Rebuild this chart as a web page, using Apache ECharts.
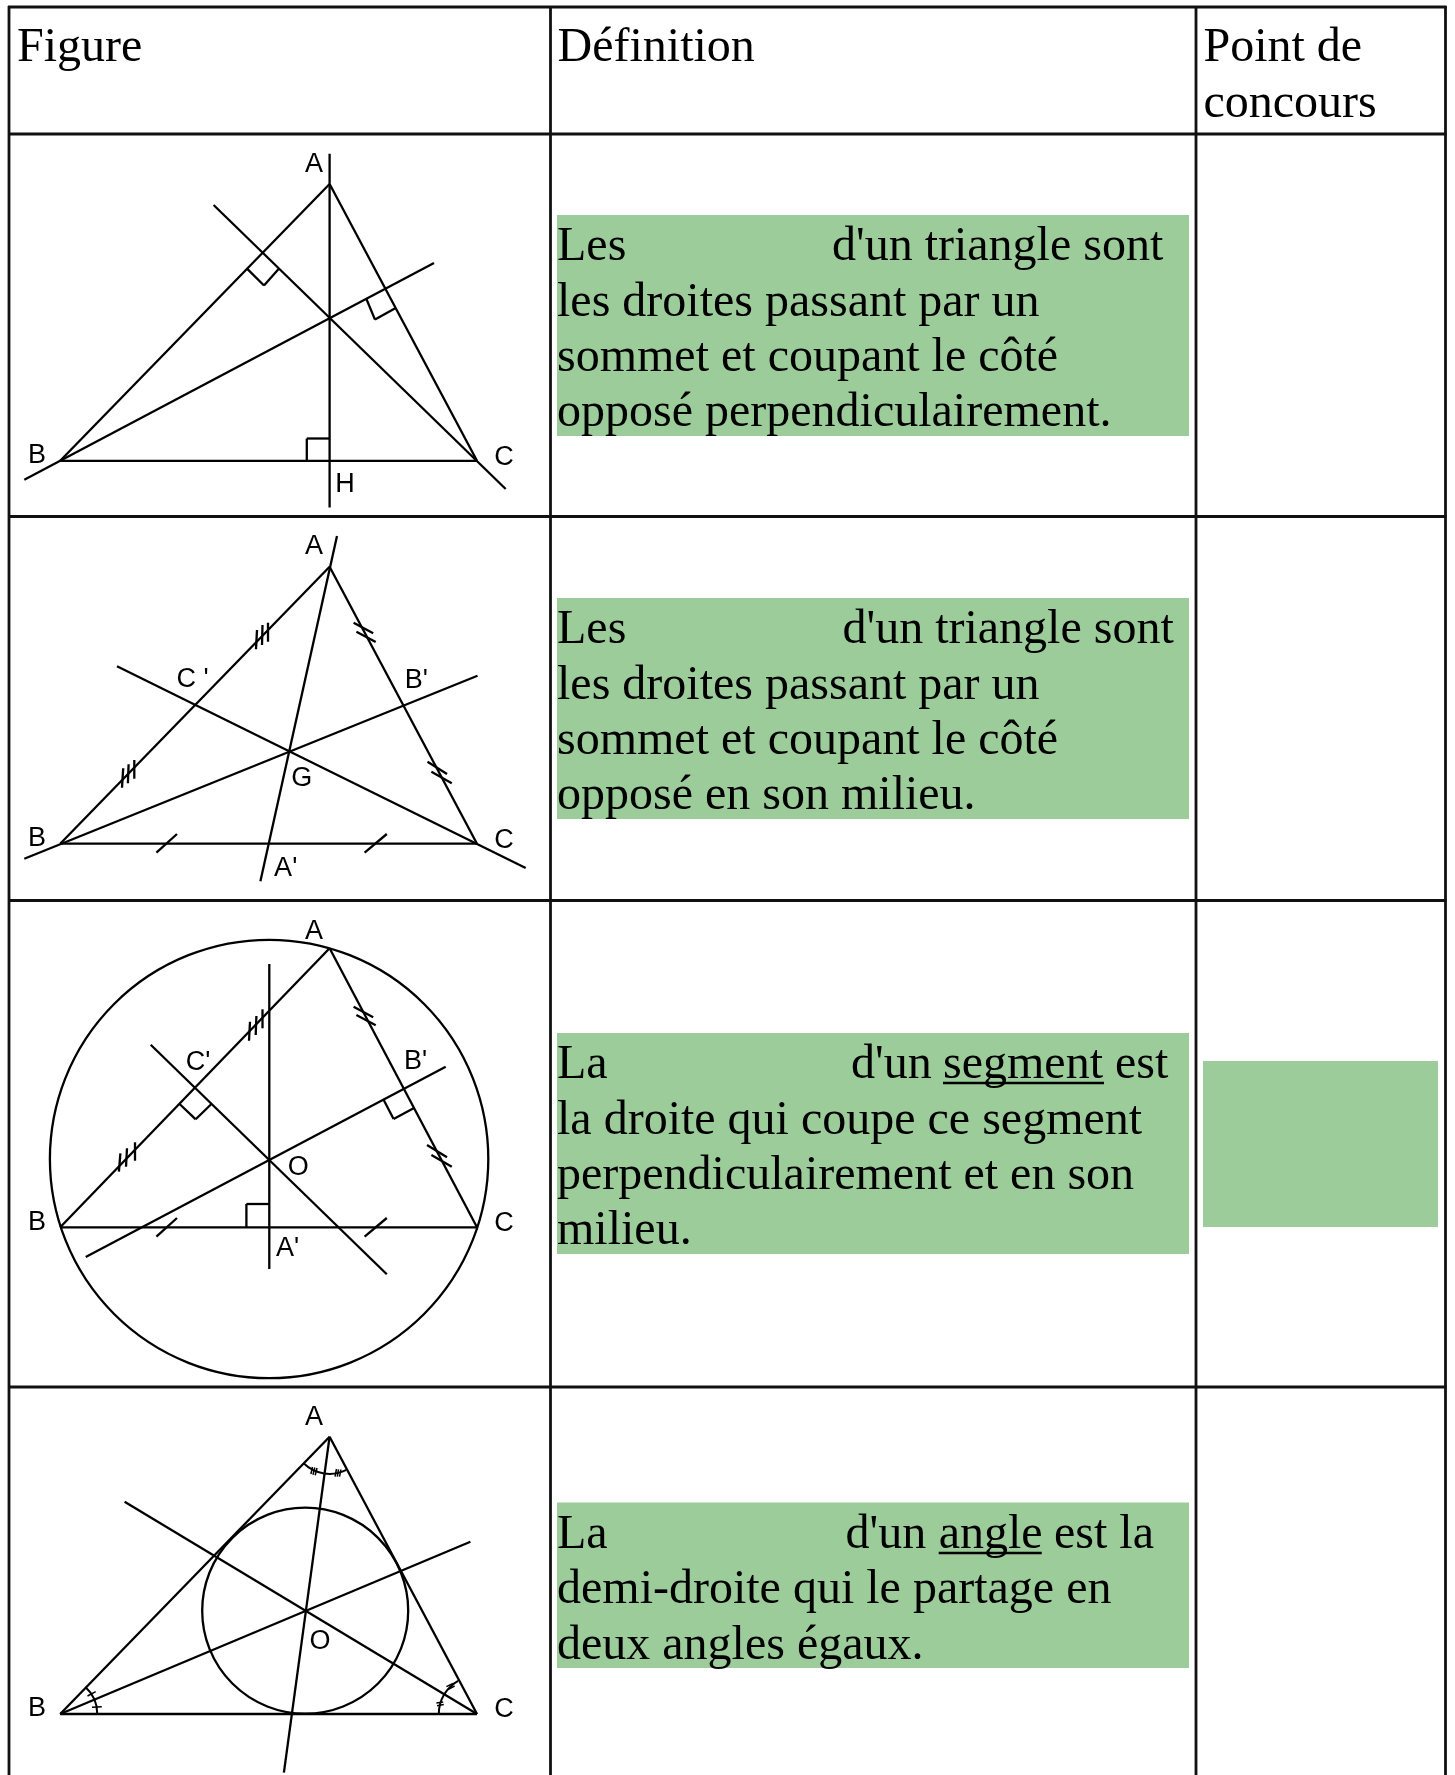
<!DOCTYPE html>
<html>
<head>
<meta charset="utf-8">
<title>Droites remarquables</title>
<script src="https://cdn.jsdelivr.net/npm/echarts@6/dist/echarts.min.js"></script>
<style>
  html, body { margin: 0; padding: 0; background: #fff; }
  #main { width: 1455px; height: 1775px; }
</style>
</head>
<body>
<div id="main"></div>
<script>
  // segments are [x1, y1, x2, y2] in the page scale of the hidden axes
  const tableLines = [
    [8, 7, 1446.5, 7], [8, 134, 1446.5, 134], [8, 516.5, 1446.5, 516.5],
    [8, 900.5, 1446.5, 900.5], [8, 1387, 1446.5, 1387],
    [9, 6, 9, 1775], [550.5, 6, 550.5, 1775], [1196, 6, 1196, 1775], [1445.5, 6, 1445.5, 1775],
  ]
  const greenBoxes = [
    [557, 215, 1189, 436], [557, 598, 1189, 819], [557, 1033, 1189, 1254],
    [557, 1502.5, 1189, 1668], [1203, 1061, 1438, 1227],
  ]

  const altitudes = [
    [329.6, 184, 60.2, 460.8], [329.6, 184, 477, 460.8], [60.2, 460.8, 477, 460.8],
    [329.6, 153.7, 329.6, 507.4], [213.6, 205, 505.7, 489], [24.3, 479.7, 434, 263],
    [247, 268.6, 264, 285.5], [264, 285.5, 278.6, 269],
    [366.4, 299, 375, 319.6], [375, 319.6, 395.7, 308],
    [306.8, 460.8, 306.8, 438.5], [306.8, 438.5, 329.6, 438.5],
  ]
  const medians = [
    [329.6, 566.7, 60.2, 843.7], [329.6, 566.7, 477, 843.7], [60.2, 843.7, 477, 843.7],
    [337, 536, 260.4, 881.3], [117, 666.3, 525.7, 868], [24.3, 858.7, 477.5, 675.7],
    [256, 649.3, 257, 630], [262, 645, 262.5, 625], [268, 641.7, 268, 622.7],
    [122, 787.7, 123.2, 768.3], [127.9, 783.3, 128.6, 764.3], [134.3, 778.7, 134.3, 760],
    [353.6, 622.7, 373.2, 633.3], [356.4, 631.7, 375.7, 642],
    [427.5, 761.7, 447, 774], [431.4, 771.7, 451.8, 783.3],
    [156.4, 852.7, 177, 834], [364.6, 852.7, 386.8, 834],
  ]
  const bisectors = [
    [329.6, 948.3, 60.2, 1227.3], [329.6, 948.3, 477, 1227.3], [60.2, 1227.3, 477, 1227.3],
    [269.3, 964, 269.3, 1269], [150.7, 1044.7, 386.8, 1274.3], [85.7, 1257, 445.7, 1066.7],
    [179.6, 1104, 195.7, 1119.3], [195.7, 1119.3, 211.4, 1104],
    [383.2, 1099, 393.6, 1119], [393.6, 1119, 413.6, 1108.3],
    [246.4, 1227.3, 246.4, 1204], [246.4, 1204, 269.3, 1204],
    [249, 1040.7, 250, 1021.7], [255.7, 1035, 256.4, 1016], [262.5, 1028.3, 262.5, 1009.3],
    [118.9, 1171.7, 120.4, 1153.3], [126, 1166.7, 127, 1148.3], [135, 1160.7, 135, 1142.3],
    [353.6, 1006.7, 373.2, 1017.3], [356.4, 1015, 375.7, 1025.3],
    [427, 1145, 447, 1157.3], [431.4, 1155, 451.8, 1166.7],
    [156.4, 1236.7, 177, 1218], [364.6, 1236.7, 386.8, 1218],
  ]
  const angleBisectors = [
    [329.6, 1436.7, 60.2, 1714], [329.6, 1436.7, 477, 1714], [60.2, 1714, 477, 1714],
    [329.6, 1436.7, 283.9, 1772.7], [124.6, 1501.7, 477, 1714], [60.2, 1714, 470.4, 1541.7],
  ]
  const angleTicks = [
    [310.9, 1474, 312.5, 1467], [313, 1474.7, 314.8, 1467.5], [315.2, 1475.3, 317, 1468],
    [335, 1476.7, 336.5, 1469], [337.3, 1476.7, 338.5, 1469.3], [339.5, 1476.7, 341, 1469.5],
    [87.5, 1696, 95.7, 1691.7], [92, 1707.3, 101.8, 1706.7],
    [446.4, 1686.7, 453, 1683.5], [448, 1689.5, 454.6, 1686],
    [436.4, 1703, 443.2, 1702], [437, 1705.7, 443.8, 1704.5],
  ]
  const underlines = [[943, 1083, 1104, 1083], [938.7, 1553, 1041.7, 1553]]

  // [cx, cy, r]
  const circles = [[269.1, 1159, 219.2], [305.2, 1610.7, 103]]
  // [cx, cy, r, start degrees, end degrees]
  const arcs = [
    [329.6, 1436.7, 37.2, 63.2, 134.3],
    [60.7, 1714, 36.6, -47.5, 0],
    [477, 1714, 38.2, 180, 240.3],
  ]

  // [text, x, baseline y]
  const serifTexts = [
    ['Figure', 17, 60], ['Définition', 557.5, 60], ['Point de', 1203.5, 60], ['concours', 1203.5, 116],
    ['Les', 557, 259.5], ["d'un triangle sont", 832, 259.5], ['les droites passant par un', 557, 315],
    ['sommet et coupant le côté', 557, 370], ['opposé perpendiculairement.', 557, 425.5],
    ['Les', 557, 642.5], ["d'un triangle sont", 842.5, 642.5], ['les droites passant par un', 557, 698],
    ['sommet et coupant le côté', 557, 753], ['opposé en son milieu.', 557, 808.5],
    ['La', 557, 1077.5], ["d'un", 851, 1077.5], ['segment', 943, 1077.5], ['est', 1115, 1077.5],
    ['la droite qui coupe ce segment', 557, 1133], ['perpendiculairement et en son', 557, 1188],
    ['milieu.', 557, 1243.5],
    ['La', 557, 1547], ["d'un", 845.5, 1547], ['angle', 938.7, 1547], ['est la', 1054, 1547],
    ['demi-droite qui le partage en', 557, 1602.5], ['deux angles égaux.', 557, 1658],
  ]
  // [text, x centre, y centre]
  const pointLabels = [
    ['A', 314, 163], ['B', 37, 454], ['C', 504, 456], ['H', 345, 482.4],
    ['A', 314, 545], ['B', 37, 836.7], ['C', 504, 838.3], ['G', 301.8, 776.7],
    ["A'", 285.7, 866.7], ["C '", 192.5, 677.5], ["B'", 416.3, 678.3],
    ['A', 314, 929.3], ['B', 37, 1221], ['C', 504, 1221.7], ['O', 298.2, 1165.5],
    ["A'", 287.5, 1246.7], ["C'", 198.2, 1060.7], ["B'", 415.5, 1059.3],
    ['A', 314, 1416], ['B', 37, 1707], ['C', 504, 1708], ['O', 320, 1640],
  ]

  const chart = echarts.init(document.getElementById('main'), null, { renderer: 'canvas' })

  function segmentSeries(rows, width, color) {
    return {
      type: 'custom',
      silent: true,
      clip: false,
      data: rows,
      encode: { x: [0, 2], y: [1, 3] },
      renderItem(params, api) {
        const a = api.coord([api.value(0), api.value(1)])
        const b = api.coord([api.value(2), api.value(3)])
        return {
          type: 'line',
          shape: { x1: a[0], y1: a[1], x2: b[0], y2: b[1] },
          style: { stroke: color, lineWidth: width, fill: null },
        }
      },
    }
  }

  function textSeries(rows, font, align, middleShift) {
    return {
      type: 'custom',
      silent: true,
      clip: false,
      z: 5,
      data: rows.map((r) => [r[1], r[2]]),
      encode: { x: 0, y: 1 },
      renderItem(params, api) {
        const p = api.coord([api.value(0), api.value(1)])
        return {
          type: 'text',
          x: p[0],
          y: p[1] - middleShift,
          style: {
            text: rows[params.dataIndex][0],
            font: font,
            fill: '#000',
            align: align,
            verticalAlign: 'middle',
          },
        }
      },
    }
  }

  chart.setOption({
    animation: false,
    backgroundColor: '#fff',
    grid: { left: 0, right: 0, top: 0, bottom: 0 },
    xAxis: { type: 'value', min: 0, max: 1455, show: false },
    yAxis: { type: 'value', min: 0, max: 1775, inverse: true, show: false },
    series: [
      {
        type: 'custom',
        silent: true,
        data: greenBoxes,
        encode: { x: [0, 2], y: [1, 3] },
        renderItem(params, api) {
          const a = api.coord([api.value(0), api.value(1)])
          const b = api.coord([api.value(2), api.value(3)])
          return {
            type: 'rect',
            shape: { x: a[0], y: a[1], width: b[0] - a[0], height: b[1] - a[1] },
            style: { fill: '#9ccc9a' },
          }
        },
      },
      segmentSeries(tableLines, 2.8, '#111'),
      segmentSeries(altitudes, 2.3, '#000'),
      segmentSeries(medians, 2.3, '#000'),
      segmentSeries(bisectors, 2.3, '#000'),
      segmentSeries(angleBisectors, 2.3, '#000'),
      segmentSeries(angleTicks, 1.5, '#000'),
      segmentSeries(underlines, 2.4, '#000'),
      {
        type: 'custom',
        silent: true,
        clip: false,
        data: circles,
        encode: { x: 0, y: 1 },
        renderItem(params, api) {
          const c = api.coord([api.value(0), api.value(1)])
          return {
            type: 'circle',
            shape: { cx: c[0], cy: c[1], r: api.size([api.value(2), 0])[0] },
            style: { fill: 'none', stroke: '#000', lineWidth: 2.3 },
          }
        },
      },
      {
        type: 'custom',
        silent: true,
        clip: false,
        data: arcs,
        encode: { x: 0, y: 1 },
        renderItem(params, api) {
          const c = api.coord([api.value(0), api.value(1)])
          return {
            type: 'arc',
            shape: {
              cx: c[0],
              cy: c[1],
              r: api.size([api.value(2), 0])[0],
              startAngle: (api.value(3) * Math.PI) / 180,
              endAngle: (api.value(4) * Math.PI) / 180,
              clockwise: true,
            },
            style: { fill: 'none', stroke: '#000', lineWidth: 2 },
          }
        },
      },
      textSeries(serifTexts, '48px "Liberation Serif"', 'left', 12),
      textSeries(pointLabels, '27px "Liberation Sans"', 'center', -2),
    ],
  })
</script>
</body>
</html>
